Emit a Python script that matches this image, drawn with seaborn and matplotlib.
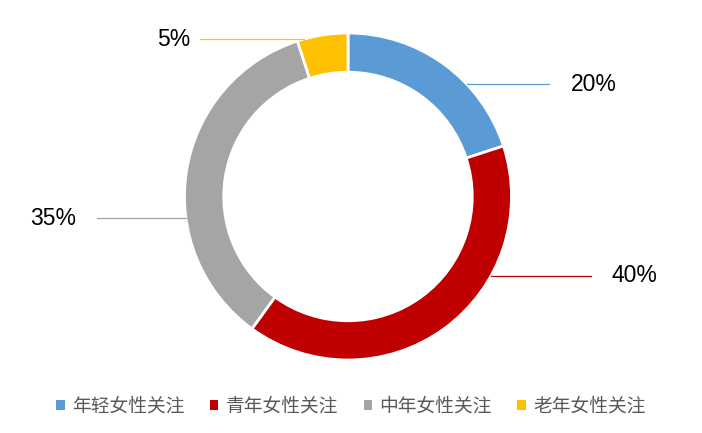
import numpy as np
import seaborn as sns
import matplotlib.pyplot as plt
from matplotlib.patches import Patch

# Data
categories = ["年轻女性关注", "青年女性关注", "中年女性关注", "老年女性关注"]
values = [20, 40, 35, 5]
colors = ["#5B9BD5", "#C00000", "#A5A5A5", "#FFC000"]

# label layout (label y, line end x, text x), in units of pie radius
label_y = [0.686, -0.484, -0.133, 0.963]
line_end_x = [1.229, 1.486, -1.535, -0.905]
text_x = [1.364, 1.609, -1.664, -0.966]

sns.set_theme(style="white")
plt.rcParams['font.family'] = ['Noto Sans CJK SC', 'DejaVu Sans']

fig = plt.figure(figsize=(7.02, 4.33), dpi=100)
ax = fig.add_axes([0, 0, 1, 1])

ax.pie(values, colors=colors, startangle=90, counterclock=False, radius=1,
       wedgeprops=dict(width=0.24, edgecolor="white", linewidth=2))

for v, c, y, xe, xt in zip(values, colors, label_y, line_end_x, text_x):
    side = 1 if xe > 0 else -1
    x0 = side * np.sqrt(1 - y ** 2)
    ax.plot([x0, xe], [y, y], color=c, lw=0.9)
    ax.text(xt, y, f"{v}%", ha="left" if side > 0 else "right", va="center",
            fontsize=16.5, family=["Liberation Sans", "DejaVu Sans"], color="black")

ax.set_xlim(-348 / 163.5, (702 - 348) / 163.5)
ax.set_ylim(-236.5 / 163.5, 196.5 / 163.5)
ax.axis("off")

handles = [Patch(facecolor=c, edgecolor="none") for c in colors]
fig.legend(handles, categories, loc="center", bbox_to_anchor=(0.5, 0.062),
           ncol=4, frameon=False, fontsize=13.5, labelcolor="#595959",
           handlelength=0.45, handleheight=0.45, handletextpad=0.4,
           columnspacing=1.35)

plt.savefig("out.png", dpi=100)
